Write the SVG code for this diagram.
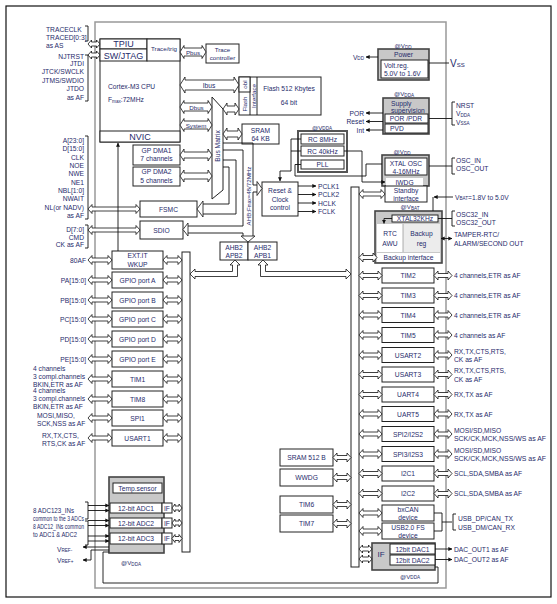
<svg xmlns="http://www.w3.org/2000/svg" width="557" height="604" viewBox="0 0 557 604">
<style>
text{font-family:"Liberation Sans",Arial,sans-serif;font-size:6.7px;fill:#1f2b6b;dominant-baseline:central}
.m{text-anchor:middle}
.e{text-anchor:end}
.b{font-size:9px}
.sm{font-size:6.2px}
.bx{fill:#fff;stroke:#222;stroke-width:1}
.gb{fill:#c8c8c8;stroke:#444;stroke-width:1.6}
.ar{fill:#fff;stroke:#111;stroke-width:0.8}
.ln{fill:none;stroke:#111;stroke-width:0.9}
.la{fill:none;stroke:#111;stroke-width:0.9;marker-end:url(#ah)}
.sub{font-size:4.6px}
</style>
<defs>
<marker id="ah" viewBox="0 0 6 6" refX="5.5" refY="3" markerWidth="4.5" markerHeight="4.5" orient="auto"><path d="M0,0L6,3L0,6z" fill="#111"/></marker>
<polygon id="a24" class="ar" points="0,0 4,-4.5 4,-2 20,-2 20,-4.5 24,0 20,4.5 20,2 4,2 4,4.5"/>
<polygon id="a19" class="ar" points="0,0 4,-4.5 4,-2 15,-2 15,-4.5 19,0 15,4.5 15,2 4,2 4,4.5"/>
<polygon id="a23" class="ar" points="0,0 4,-4.5 4,-2 19,-2 19,-4.5 23,0 19,4.5 19,2 4,2 4,4.5"/>
<polygon id="a18" class="ar" points="0,0 4,-4.5 4,-2 14,-2 14,-4.5 18,0 14,4.5 14,2 4,2 4,4.5"/>
<polygon id="a13" class="ar" points="0,0 3.5,-4 3.5,-2 9.5,-2 9.5,-4 13,0 9.5,4 9.5,2 3.5,2 3.5,4"/>
<polygon id="a12" class="ar" points="0,0 3.5,-4 3.5,-2 8.5,-2 8.5,-4 12,0 8.5,4 8.5,2 3.5,2 3.5,4"/>
<polygon id="a10" class="ar" points="0,0 3,-4 3,-2 7,-2 7,-4 10,0 7,4 7,2 3,2 3,4"/>
<polygon id="a52" class="ar" points="0,0 4,-4.5 4,-2 48,-2 48,-4.5 52,0 48,4.5 48,2 4,2 4,4.5"/>
</defs>

<rect x="6" y="6" width="545" height="591" fill="#fff" stroke="#111" stroke-width="1.2"/>
<rect x="95" y="22" width="351" height="566" fill="none" stroke="#999" stroke-width="1.5"/>

<g id="cpu">
<rect class="bx" x="100" y="39" width="80" height="103"/>
<rect class="bx" x="100" y="39" width="47" height="10"/>
<rect class="bx" x="100" y="49" width="47" height="12"/>
<rect class="bx" x="147" y="39" width="33" height="22"/>
<rect class="bx" x="100" y="131" width="80" height="11"/>
<text class="m b" x="123.5" y="44">TPIU</text>
<text class="m b" x="123.5" y="55.5">SW/JTAG</text>
<text class="m sm" x="164" y="48">Trace/trig</text>
<text x="108" y="86">Cortex-M3 CPU</text>
<text x="108" y="99">F<tspan class="sub" dy="1.5">max</tspan><tspan dy="-1.5">:72MHz</tspan></text>
<text class="m b" x="140" y="137">NVIC</text>
</g>

<g id="trace-controller">
<rect class="bx" x="206" y="44" width="33" height="19"/>
<text class="m sm" x="222.5" y="49.5">Trace</text>
<text class="m sm" x="222.5" y="57.5">controller</text>
</g>

<g id="flash">
<rect class="bx" x="239" y="77" width="82" height="38"/>
<line class="ln" x1="250" y1="77" x2="250" y2="115"/>
<line class="ln" x1="257" y1="77" x2="257" y2="115"/>
<rect class="bx" x="239" y="77" width="11" height="15"/>
<text class="m sm" transform="rotate(-90 244.5 84.5)" x="244.5" y="84.5">obl</text>
<text class="m sm" transform="rotate(-90 244.5 104)" x="244.5" y="104">Flash</text>
<text class="m sm" transform="rotate(-90 253.5 96)" x="253.5" y="96">Interface</text>
<text class="m" x="289" y="88">Flash 512 Kbytes</text>
<text class="m" x="289" y="102">64 bit</text>
</g>

<g id="sram">
<rect class="bx" x="242" y="124" width="37" height="20"/>
<text class="m" x="260.5" y="130">SRAM</text>
<text class="m" x="260.5" y="138.5">64 KB</text>
</g>

<g id="busmatrix">
<polygon points="212,97 223,109 223,190 212,199" fill="#fff" stroke="#222" stroke-width="1"/>
<text class="m" transform="rotate(-90 217.8 146)" x="217.8" y="146">Bus Matrix</text>
</g>

<g id="dma1">
<rect class="bx" x="133" y="145" width="47" height="20"/>
<text class="m" x="156.5" y="150.5">GP DMA1</text>
<text class="m" x="156.5" y="158.5">7 channels</text>
</g>
<g id="dma2">
<rect class="bx" x="133" y="167" width="47" height="19"/>
<text class="m" x="156.5" y="171.5">GP DMA2</text>
<text class="m" x="156.5" y="180">5 channels</text>
</g>

<g id="fsmc">
<rect class="bx" x="140" y="201" width="57" height="16"/>
<text class="m" x="168.5" y="209">FSMC</text>
</g>
<g id="sdio">
<rect class="bx" x="140" y="221" width="43" height="18"/>
<text class="m" x="161.5" y="230">SDIO</text>
</g>

<g id="clocks">
<rect x="298" y="131" width="49" height="41" fill="#fff" stroke="#555" stroke-width="2"/>
<rect class="bx" x="301" y="134" width="43" height="10"/>
<rect class="bx" x="301" y="146" width="43" height="10"/>
<rect class="bx" x="301" y="160" width="43" height="9"/>
<text class="m" x="322.5" y="139">RC 8MHz</text>
<text class="m" x="322.5" y="151">RC 40kHz</text>
<text class="m" x="322.5" y="164.5">PLL</text>
<text class="m sm" x="322" y="127">@V<tspan class="sub" dy="1.2">DDA</tspan></text>
</g>

<g id="rcc">
<rect class="bx" x="262" y="182" width="36" height="34"/>
<text class="m" x="280" y="190.5">Reset &amp;</text>
<text class="m" x="280" y="199">Clock</text>
<text class="m" x="280" y="207.5">control</text>
</g>

<g id="bridge-apb2">
<rect class="bx" x="220" y="242" width="28" height="18"/>
<text class="m" x="234" y="247">AHB2</text>
<text class="m" x="234" y="255.5">APB2</text>
</g>
<g id="bridge-apb1">
<rect class="bx" x="248" y="242" width="29" height="18"/>
<text class="m" x="262.5" y="247">AHB2</text>
<text class="m" x="262.5" y="255.5">APB1</text>
</g>

<g id="power">
<rect class="gb" x="378" y="49" width="51" height="31"/>
<rect class="bx" x="381" y="60" width="47" height="18"/>
<text class="m" x="403.5" y="54.5">Power</text>
<text x="384" y="65">Volt.reg.</text>
<text x="384" y="73.5">5.0V to 1.6V</text>
<text class="m sm" x="403" y="45.5">@V<tspan class="sub" dy="1.2">DD</tspan></text>
</g>

<g id="supply">
<rect class="gb" x="383" y="98" width="46" height="36"/>
<rect class="bx" x="385" y="114" width="43" height="9"/>
<rect class="bx" x="385" y="124" width="43" height="9"/>
<text x="391" y="103">Supply</text>
<text x="391" y="110.5">supervision</text>
<text class="m" x="406" y="118.5">POR /PDR</text>
<text x="390" y="128.5">PVD</text>
<text class="m sm" x="404" y="93.5">@V<tspan class="sub" dy="1.2">DDA</tspan></text>
</g>

<g id="xtal">
<rect class="gb" x="382" y="155" width="47" height="31"/>
<rect class="bx" x="385" y="158" width="42" height="17"/>
<rect x="386" y="178" width="37" height="8" fill="#fff" stroke="none"/>
<rect class="bx" x="385" y="186" width="42" height="16"/>
<text class="m" x="406" y="163">XTAL OSC</text>
<text class="m" x="406" y="171">4-16MHz</text>
<text class="m" x="404.5" y="182">IWDG</text>
<text class="m" x="406" y="190">Standby</text>
<text class="m" x="406" y="198">interface</text>
<text class="m sm" x="402" y="151.5">@V<tspan class="sub" dy="1.2">DD</tspan></text>
</g>

<g id="backup">
<rect class="gb" x="375" y="211" width="67" height="52"/>
<rect class="bx" x="392" y="215" width="46" height="7"/>
<rect x="377" y="224" width="26" height="28" fill="#fff" stroke="none"/>
<rect x="403" y="224" width="37" height="28" fill="#ececec" stroke="none"/>
<line x1="403" y1="224" x2="403" y2="252" stroke="#999" stroke-width="0.8"/>
<rect x="377" y="253" width="63" height="9" fill="#fff" stroke="none"/>
<text class="m" x="415" y="218.5">XTAL32KHz</text>
<text class="m" x="390" y="233">RTC</text>
<text class="m" x="390" y="243">AWU</text>
<text class="m" x="421.5" y="233">Backup</text>
<text class="m" x="421.5" y="243">reg</text>
<text class="m" x="408.5" y="257.5">Backup interface</text>
<text class="m sm" x="410" y="206.5">@V<tspan class="sub" dy="1.2">BAT</tspan></text>
</g>

<g id="apb2-bus"><rect class="bx" x="182" y="252" width="8" height="300"/></g>
<g id="apb1-bus"><rect class="bx" x="351" y="187" width="8" height="380"/></g>

<g id="extit">
<rect class="bx" x="112" y="251" width="51" height="18"/>
<text class="m" x="137.5" y="255.5">EXT.IT</text>
<text class="m" x="137.5" y="264">WKUP</text>
</g>
<g id="gpioa"><rect class="bx" x="112" y="272" width="51" height="16"/><text class="m" x="137.5" y="280">GPIO port A</text></g>
<g id="gpiob"><rect class="bx" x="112" y="292" width="51" height="16"/><text class="m" x="137.5" y="300">GPIO port B</text></g>
<g id="gpioc"><rect class="bx" x="112" y="311" width="51" height="16"/><text class="m" x="137.5" y="319">GPIO port C</text></g>
<g id="gpiod"><rect class="bx" x="112" y="331" width="51" height="16"/><text class="m" x="137.5" y="339">GPIO port D</text></g>
<g id="gpioe"><rect class="bx" x="112" y="351" width="51" height="16"/><text class="m" x="137.5" y="359">GPIO port E</text></g>
<g id="tim1"><rect class="bx" x="112" y="371" width="51" height="16"/><text class="m" x="137.5" y="379">TIM1</text></g>
<g id="tim8"><rect class="bx" x="112" y="391" width="51" height="16"/><text class="m" x="137.5" y="399">TIM8</text></g>
<g id="spi1"><rect class="bx" x="112" y="410" width="51" height="16"/><text class="m" x="137.5" y="418">SPI1</text></g>
<g id="usart1"><rect class="bx" x="112" y="430" width="51" height="16"/><text class="m" x="137.5" y="438">USART1</text></g>

<g id="adc">
<rect class="gb" x="109" y="477" width="55" height="76"/>
<rect class="bx" x="113" y="483" width="49" height="10"/>
<text class="m" x="137.5" y="488">Temp.sensor</text>
<rect class="bx" x="110" y="503" width="52" height="10"/><rect class="bx" x="162" y="503" width="10" height="10"/>
<rect class="bx" x="110" y="518" width="52" height="10"/><rect class="bx" x="162" y="518" width="10" height="10"/>
<rect class="bx" x="110" y="533" width="52" height="11"/><rect class="bx" x="162" y="533" width="10" height="11"/>
<text class="m" x="136" y="508">12-bit ADC1</text>
<text class="m" x="136" y="523">12-bit ADC2</text>
<text class="m" x="136" y="538.5">12-bit ADC3</text>
<text class="m" x="167" y="508">IF</text>
<text class="m" x="167" y="523">IF</text>
<text class="m" x="167" y="538.5">IF</text>
<text class="m sm" x="131" y="562.5">@V<tspan class="sub" dy="1.2">DDA</tspan></text>
</g>

<g id="sram512"><rect class="bx" x="280" y="449" width="53" height="17"/><text class="m" x="306.5" y="457.5">SRAM 512 B</text></g>
<g id="wwdg"><rect class="bx" x="280" y="469" width="53" height="17"/><text class="m" x="306.5" y="477.5">WWDG</text></g>
<g id="tim6"><rect class="bx" x="280" y="496" width="53" height="17"/><text class="m" x="306.5" y="504.5">TIM6</text></g>
<g id="tim7"><rect class="bx" x="280" y="515" width="53" height="17"/><text class="m" x="306.5" y="523.5">TIM7</text></g>

<g id="tim2"><rect class="bx" x="382" y="268" width="52" height="15"/><text class="m" x="408" y="275.5">TIM2</text></g>
<g id="tim3"><rect class="bx" x="382" y="288" width="52" height="15"/><text class="m" x="408" y="295.5">TIM3</text></g>
<g id="tim4"><rect class="bx" x="382" y="307.5" width="52" height="15"/><text class="m" x="408" y="315">TIM4</text></g>
<g id="tim5"><rect class="bx" x="382" y="327.5" width="52" height="15"/><text class="m" x="408" y="335">TIM5</text></g>
<g id="usart2"><rect class="bx" x="382" y="347.5" width="52" height="15"/><text class="m" x="408" y="355">USART2</text></g>
<g id="usart3"><rect class="bx" x="382" y="367" width="52" height="15"/><text class="m" x="408" y="374.5">USART3</text></g>
<g id="uart4"><rect class="bx" x="382" y="387" width="52" height="15"/><text class="m" x="408" y="394.5">UART4</text></g>
<g id="uart5"><rect class="bx" x="382" y="406.5" width="52" height="15"/><text class="m" x="408" y="414">UART5</text></g>
<g id="spi2"><rect class="bx" x="382" y="426.5" width="52" height="15"/><text class="m" x="408" y="434">SPI2/I2S2</text></g>
<g id="spi3"><rect class="bx" x="382" y="446.5" width="52" height="15"/><text class="m" x="408" y="454">SPI3/I2S3</text></g>
<g id="i2c1"><rect class="bx" x="382" y="466" width="52" height="15"/><text class="m" x="408" y="473.5">I2C1</text></g>
<g id="i2c2"><rect class="bx" x="382" y="486" width="52" height="15"/><text class="m" x="408" y="493.5">I2C2</text></g>
<g id="bxcan"><rect class="bx" x="382" y="505" width="52" height="16"/><text class="m" x="408" y="509">bxCAN</text><text class="m" x="408" y="517">device</text></g>
<g id="usb"><rect class="bx" x="382" y="523" width="52" height="16"/><text class="m" x="408" y="527">USB2.0 FS</text><text class="m" x="408" y="535">device</text></g>

<g id="dac">
<rect class="gb" x="372" y="543" width="63" height="27"/>
<rect class="bx" x="390" y="544" width="45" height="10"/>
<rect class="bx" x="390" y="555" width="45" height="10"/>
<text class="m" x="381" y="554" style="font-size:8px">IF</text>
<text class="m" x="412.5" y="549">12bit DAC1</text>
<text class="m" x="412.5" y="560">12bit DAC2</text>
<text class="m sm" x="410" y="576">@V<tspan class="sub" dy="1.2">DDA</tspan></text>
</g>

<g id="connectors">
<path class="ln" d="M85,26H88V41H85M85,55H88V101H85M85,136H88V219H85M85,225H88V248H85M85,502H88V519H85M85,521H88V545H85"/>
<use href="#a12" x="88" y="44"/>
<use href="#a12" x="88" y="55"/>
<use href="#a52" x="88" y="209"/>
<use href="#a52" x="88" y="230"/>
<use href="#a24" x="88" y="260"/>
<use href="#a24" x="88" y="280"/>
<use href="#a24" x="88" y="300"/>
<use href="#a24" x="88" y="319"/>
<use href="#a24" x="88" y="339"/>
<use href="#a24" x="88" y="359"/>
<use href="#a24" x="88" y="379"/>
<use href="#a24" x="88" y="399"/>
<use href="#a24" x="88" y="418"/>
<use href="#a24" x="88" y="438"/>
<use href="#a19" x="163" y="260"/>
<use href="#a19" x="163" y="280"/>
<use href="#a19" x="163" y="300"/>
<use href="#a19" x="163" y="319"/>
<use href="#a19" x="163" y="339"/>
<use href="#a19" x="163" y="359"/>
<use href="#a19" x="163" y="379"/>
<use href="#a19" x="163" y="399"/>
<use href="#a19" x="163" y="418"/>
<use href="#a19" x="163" y="438"/>
<use href="#a10" x="172" y="508"/>
<use href="#a10" x="172" y="523"/>
<use href="#a10" x="172" y="538.5"/>
<path class="la" d="M88,505.5H109"/>
<path class="la" d="M88,510.5H109"/>
<path class="la" d="M88,520.5H109"/>
<path class="la" d="M88,525.5H109"/>
<path class="la" d="M88,536H109"/>
<path class="la" d="M88,541H109"/>
<path class="la" d="M109,547H83"/>
<path class="la" d="M109,550H91V560H83"/>
<path class="ln" d="M109,552H103V583H438V567H435"/>
<path class="la" d="M118,251V143"/>
<polygon class="ar" points="180,52 184,45.5 184,48 202,48 202,45.5 206,52 202,58.5 202,56 184,56 184,58.5"/>
<polygon class="ar" points="180,85 185,77 185,80 234,80 234,77 239,85 234,93 234,90 185,90 185,93"/>
<polygon class="ar" points="180,107 184,100.5 184,103 208,103 208,100.5 212,107 208,113.5 208,111 184,111 184,113.5"/>
<polygon class="ar" points="180,125 184,118.5 184,121 208,121 208,118.5 212,125 208,131.5 208,129 184,129 184,131.5"/>
<polygon class="ar" points="180,155 184,149 184,152 208,152 208,149 212,155 208,161 208,158 184,158 184,161"/>
<polygon class="ar" points="180,176 184,170 184,173 208,173 208,170 212,176 208,182 208,179 184,179 184,182"/>
<polygon class="ar" points="223,109 227,103 227,106 235,106 235,103 239,109 235,115 235,112 227,112 227,115"/>
<polygon class="ar" points="223,134 227,128 227,131 238,131 238,128 242,134 238,140 238,137 227,137 227,140"/>
<text class="m sm" x="193" y="52">Pbus</text>
<text class="m" x="209" y="85">Ibus</text>
<text class="m sm" x="196.5" y="107">Dbus</text>
<text class="m sm" x="196" y="125">System</text>
<path class="ln" d="M223,143H253V185M253,192V236M223,150H243V226H188M188,233H243V236M253,185H257M253,192H257"/>
<polygon class="ar" points="248,242 241,236 255,236"/>
<polygon class="ar" points="262,188.5 257,181.5 257,195.5"/>
<polygon class="ar" points="183,229.5 188,223 188,236"/>
<text class="m sm" transform="rotate(-90 248.3 196)" x="248.3" y="196">AHB:F<tspan class="sub" dy="1.2">max</tspan><tspan dy="-1.2">=48/72MHz</tspan></text>
<path class="ln" d="M223,160H236V214H203M223,167H229V204H203"/>
<polygon class="ar" points="197,209 203,201 203,217"/>
<polygon class="ar" points="235,260 240,265 237.5,265 237.5,276.5 195,276.5 195,279 190,274 195,269 195,271.5 232.5,271.5 232.5,265 230,265"/>
<polygon class="ar" points="263,260 268,265 265.5,265 265.5,271.5 346,271.5 346,269 351,274 346,279 346,276.5 260.5,276.5 260.5,265 258,265"/>
<path class="la" d="M301,139H291V171H280V181"/>
<path class="ln" d="M301,151H291M301,164.5H295V176H366V164H382"/>
<path class="la" d="M344,151H362V182H385"/>
<path class="la" d="M298,186H316"/>
<path class="la" d="M298,194.5H316"/>
<path class="la" d="M298,203H316"/>
<path class="la" d="M298,211.5H316"/>
<polygon class="ar" points="359,194 363,189.5 363,192 381,192 381,189.5 385,194 381,198.5 381,196 363,196 363,198.5"/>
<use href="#a18" x="359" y="257.5"/>
<use href="#a23" x="359" y="275.5"/>
<use href="#a23" x="359" y="295.5"/>
<use href="#a23" x="359" y="315"/>
<use href="#a23" x="359" y="335"/>
<use href="#a23" x="359" y="355"/>
<use href="#a23" x="359" y="374.5"/>
<use href="#a23" x="359" y="394.5"/>
<use href="#a23" x="359" y="414"/>
<use href="#a23" x="359" y="434"/>
<use href="#a23" x="359" y="454"/>
<use href="#a23" x="359" y="473.5"/>
<use href="#a23" x="359" y="493.5"/>
<use href="#a23" x="359" y="513"/>
<use href="#a23" x="359" y="531"/>
<use href="#a13" x="359" y="549"/>
<use href="#a13" x="359" y="559"/>
<use href="#a18" x="333" y="457.5"/>
<use href="#a18" x="333" y="477.5"/>
<use href="#a18" x="333" y="504.5"/>
<use href="#a18" x="333" y="523.5"/>
<use href="#a18" x="434" y="275.5"/>
<use href="#a18" x="434" y="295.5"/>
<use href="#a18" x="434" y="315"/>
<use href="#a18" x="434" y="335"/>
<use href="#a18" x="434" y="355"/>
<use href="#a18" x="434" y="374.5"/>
<use href="#a18" x="434" y="394.5"/>
<use href="#a18" x="434" y="414"/>
<use href="#a18" x="434" y="434"/>
<use href="#a18" x="434" y="454"/>
<use href="#a18" x="434" y="473.5"/>
<use href="#a18" x="434" y="493.5"/>
<path class="ln" d="M434,513H442V531H434M442,522H452M456,514H453V530H456"/>
<path class="la" d="M435,549H452"/>
<path class="la" d="M435,559.5H452"/>
<path class="la" d="M378,57H366"/>
<path class="ln" d="M429,63H449"/>
<path class="la" d="M383,113H366"/>
<path class="la" d="M383,121.5H366"/>
<path class="la" d="M383,130H366"/>
<path class="ln" d="M429,118.5H452M455,102H452V125H455"/>
<path class="ln" d="M429,166H452M455,158H452V174H455"/>
<path class="la" d="M453,197H434"/>
<path class="ln" d="M433,197V211"/>
<path class="ln" d="M438,218.5H452M455,211H452V226H455"/>
<path class="la" d="M392,218.5H384V223.5"/>
<path class="la" d="M446,238.5H452"/>
<path class="la" d="M446,238.5H441"/>
</g>

<g id="labels">
<text x="46" y="29">TRACECLK</text>
<text x="46" y="37.5">TRACED[0:3]</text>
<text x="46" y="45">as AS</text>
<text class="e" x="84" y="56">NJTRST</text>
<text class="e" x="84" y="63.5">JTDI</text>
<text class="e" x="84" y="71.5">JTCK/SWCLK</text>
<text class="e" x="84" y="80">JTMS/SWDIO</text>
<text class="e" x="84" y="88.5">JTDO</text>
<text class="e" x="84" y="97">as AF</text>
<text class="e" x="84" y="140.5">A[23:0]</text>
<text class="e" x="84" y="148.8">D[15:0]</text>
<text class="e" x="84" y="157">CLK</text>
<text class="e" x="84" y="165.4">NOE</text>
<text class="e" x="84" y="173.7">NWE</text>
<text class="e" x="84" y="182">NE1</text>
<text class="e" x="84" y="190.3">NBL[1:0]</text>
<text class="e" x="84" y="198.6">NWAIT</text>
<text class="e" x="84" y="207">NL(or NADV)</text>
<text class="e" x="84" y="215.3">as AF</text>
<text class="e" x="84" y="229">D[7:0]</text>
<text class="e" x="84" y="237">CMD</text>
<text class="e" x="84" y="244.5">CK as AF</text>
<text class="e" x="86" y="260">80AF</text>
<text class="e" x="86" y="280">PA[15:0]</text>
<text class="e" x="86" y="300">PB[15:0]</text>
<text class="e" x="86" y="319">PC[15:0]</text>
<text class="e" x="86" y="339">PD[15:0]</text>
<text class="e" x="86" y="359">PE[15:0]</text>
<text x="33" y="368">4 channels</text>
<text x="33" y="376">3 compl.channels</text>
<text x="33" y="384">BKIN,ETR as AF</text>
<text x="33" y="390.5">4 channels</text>
<text x="33" y="398.5">3 compl.channels</text>
<text x="33" y="406.5">BKIN,ETR as AF</text>
<text x="37" y="415">MOSI,MISO,</text>
<text x="37" y="423">SCK,NSS as AF</text>
<text x="42" y="435">RX,TX,CTS,</text>
<text x="42" y="443">RTS,CK as AF</text>
<text x="33" y="510" textLength="41" lengthAdjust="spacingAndGlyphs">8 ADC123_INs</text>
<text x="33" y="518" textLength="51" lengthAdjust="spacingAndGlyphs">common to the 3 ADCs</text>
<text x="33" y="526" textLength="51" lengthAdjust="spacingAndGlyphs">8 ADC12_INs common</text>
<text x="33" y="534" textLength="44" lengthAdjust="spacingAndGlyphs">to ADC1 &amp; ADC2</text>
<text x="57" y="549">V<tspan class="sub" dy="1.2">REF-</tspan></text>
<text x="57" y="560">V<tspan class="sub" dy="1.2">REF+</tspan></text>

<text class="e" x="364" y="57">V<tspan class="sub" dy="1.2">DD</tspan></text>
<text x="450" y="63" style="font-size:10px">V<tspan style="font-size:6px" dy="2">SS</tspan></text>
<text class="e" x="364" y="113">POR</text>
<text class="e" x="364" y="121.5">Reset</text>
<text class="e" x="364" y="130">Int</text>
<text x="456" y="105">NRST</text>
<text x="456" y="113.5">V<tspan class="sub" dy="1.2">DDA</tspan></text>
<text x="456" y="122">V<tspan class="sub" dy="1.2">SSA</tspan></text>
<text x="456" y="160">OSC_IN</text>
<text x="456" y="168.5">OSC_OUT</text>
<text x="455" y="197">V<tspan class="sub" dy="1.2">BAT</tspan><tspan dy="-1.2">=1.8V to 5.0V</tspan></text>
<text x="456" y="214">OSC32_IN</text>
<text x="456" y="222.5">OSC32_OUT</text>
<text x="454" y="234">TAMPER-RTC/</text>
<text x="454" y="243">ALARM/SECOND OUT</text>
<text x="318" y="186">PCLK1</text>
<text x="318" y="194.5">PCLK2</text>
<text x="318" y="203">HCLK</text>
<text x="318" y="211.5">FCLK</text>

<text x="454" y="275.5">4 channels,ETR as AF</text>
<text x="454" y="295.5">4 channels,ETR as AF</text>
<text x="454" y="315">4 channels,ETR as AF</text>
<text x="454" y="335">4 channels as AF</text>
<text x="454" y="351">RX,TX,CTS,RTS,</text>
<text x="454" y="359.5">CK as AF</text>
<text x="454" y="370.5">RX,TX,CTS,RTS,</text>
<text x="454" y="379">CK as AF</text>
<text x="454" y="394.5">RX,TX as AF</text>
<text x="454" y="414">RX,TX as AF</text>
<text x="454" y="430">MOSI/SD,MISO</text>
<text x="454" y="438" textLength="92" lengthAdjust="spacingAndGlyphs">SCK/CK,MCK,NSS/WS as AF</text>
<text x="454" y="450">MOSI/SD,MISO</text>
<text x="454" y="458" textLength="92" lengthAdjust="spacingAndGlyphs">SCK/CK,MCK,NSS/WS as AF</text>
<text x="454" y="473.5">SCL,SDA,SMBA as AF</text>
<text x="454" y="493.5">SCL,SDA,SMBA as AF</text>
<text x="458" y="518">USB_DP/CAN_TX</text>
<text x="458" y="527">USB_DM/CAN_RX</text>
<text x="454" y="549">DAC_OUT1 as AF</text>
<text x="454" y="559.5">DAC_OUT2 as AF</text>
</g>
</svg>
